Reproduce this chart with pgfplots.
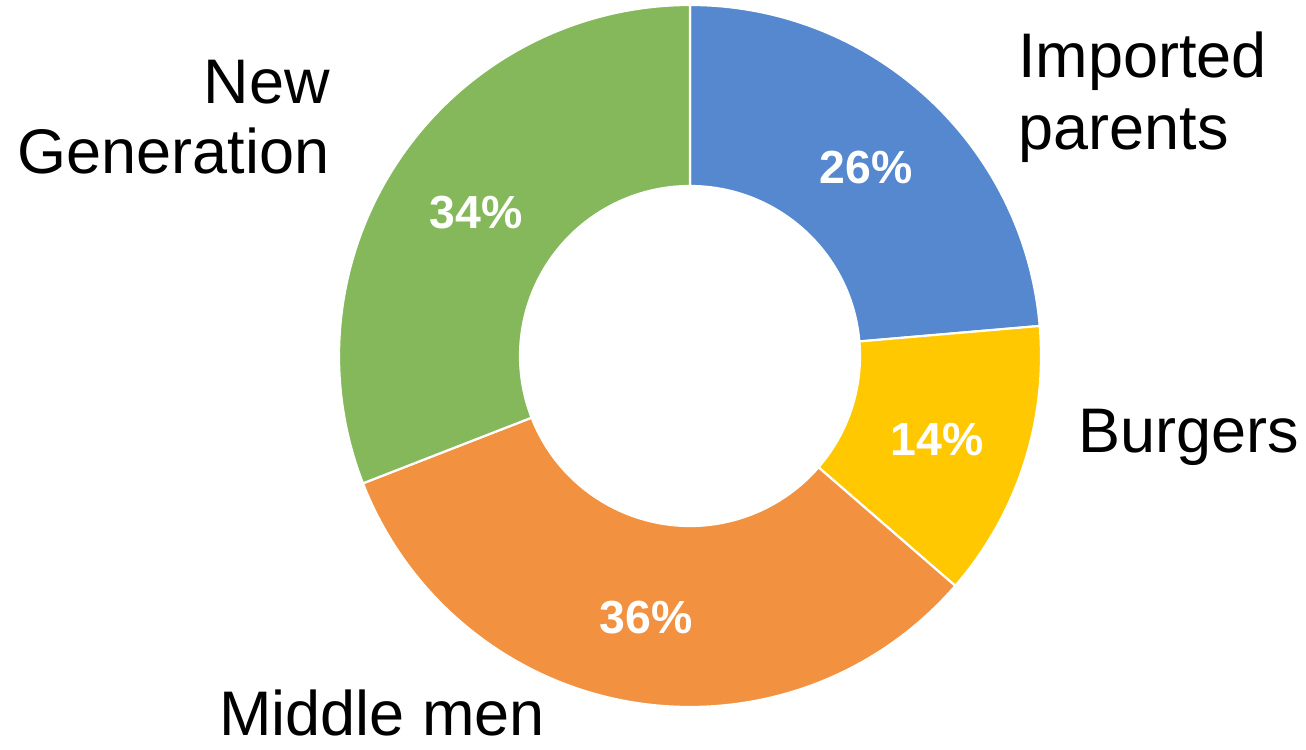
\documentclass[border=0pt]{standalone}
\usepackage{pgfplots}
\pgfplotsset{compat=1.18}
\usepackage{pgfplotstable}
\usepackage{fontspec}
\setmainfont{Liberation Sans}
\definecolor{cA}{RGB}{85,136,207}
\definecolor{cB}{RGB}{255,200,0}
\definecolor{cC}{RGB}{242,146,65}
\definecolor{cD}{RGB}{132,184,91}
\pgfplotstableread{
label value
Imported 26
Burgers 14
Middle 36
NewGen 34
}\donutdata
\newcommand\sector[3]{%
  \fill[#3, draw=white, line width=1.1pt]
    (axis cs:{690+351*cos(#1)},{384+351*sin(#1)})
    arc[start angle=#1, end angle=#2, radius=175.5pt]
    -- (axis cs:{690+170*cos(#2)},{384+170*sin(#2)})
    arc[start angle=#2, end angle=#1, radius=85pt] -- cycle;}
\newcommand\catfont{\fontsize{31.5}{29}\selectfont}
\newcommand\pctfont{\fontsize{23.2}{27}\selectfont\bfseries}
\begin{document}
\pgfplotstablegetelem{0}{value}\of\donutdata \edef\vA{\pgfplotsretval}%
\pgfplotstablegetelem{1}{value}\of\donutdata \edef\vB{\pgfplotsretval}%
\pgfplotstablegetelem{2}{value}\of\donutdata \edef\vC{\pgfplotsretval}%
\pgfplotstablegetelem{3}{value}\of\donutdata \edef\vD{\pgfplotsretval}%
\pgfmathsetmacro\tot{\vA+\vB+\vC+\vD}%
\pgfmathsetmacro\aA{90}%
\pgfmathsetmacro\aB{\aA-360*\vA/\tot}%
\pgfmathsetmacro\aC{\aB-360*\vB/\tot}%
\pgfmathsetmacro\aD{\aC-360*\vC/\tot}%
\pgfmathsetmacro\aE{\aD-360*\vD/\tot}%
\begin{tikzpicture}
\begin{axis}[x=0.5pt, y=0.5pt, xmin=0, xmax=1306, ymin=0, ymax=740,
  hide axis, clip=false]
\path (axis cs:0,0) rectangle (axis cs:1306,740);
\sector{\aA}{\aB}{cA}
\sector{\aB}{\aC}{cB}
\sector{\aC}{\aD}{cC}
\sector{\aD}{\aE}{cD}
\node[anchor=base, text=white, inner sep=0pt] at (axis cs:866,{740-184}) {\pctfont 26\%};
\node[anchor=base, text=white, inner sep=0pt] at (axis cs:937,{740-456}) {\pctfont 14\%};
\node[anchor=base, text=white, inner sep=0pt] at (axis cs:646,{740-634}) {\pctfont 36\%};
\node[anchor=base, text=white, inner sep=0pt] at (axis cs:476,{740-229}) {\pctfont 34\%};
\node[anchor=base west, inner sep=0pt] at (axis cs:1018,{740-78}) {\catfont Imported};
\node[anchor=base west, inner sep=0pt] at (axis cs:1018,{740-150}) {\catfont parents};
\node[anchor=base east, inner sep=0pt] at (axis cs:330,{740-104}) {\catfont New};
\node[anchor=base east, inner sep=0pt] at (axis cs:330,{740-174}) {\catfont Generation};
\node[anchor=base west, inner sep=0pt] at (axis cs:1078,{740-453}) {\catfont Burgers};
\node[anchor=base west, inner sep=0pt] at (axis cs:219,{740-736}) {\catfont Middle men};
\end{axis}
\end{tikzpicture}
\end{document}
